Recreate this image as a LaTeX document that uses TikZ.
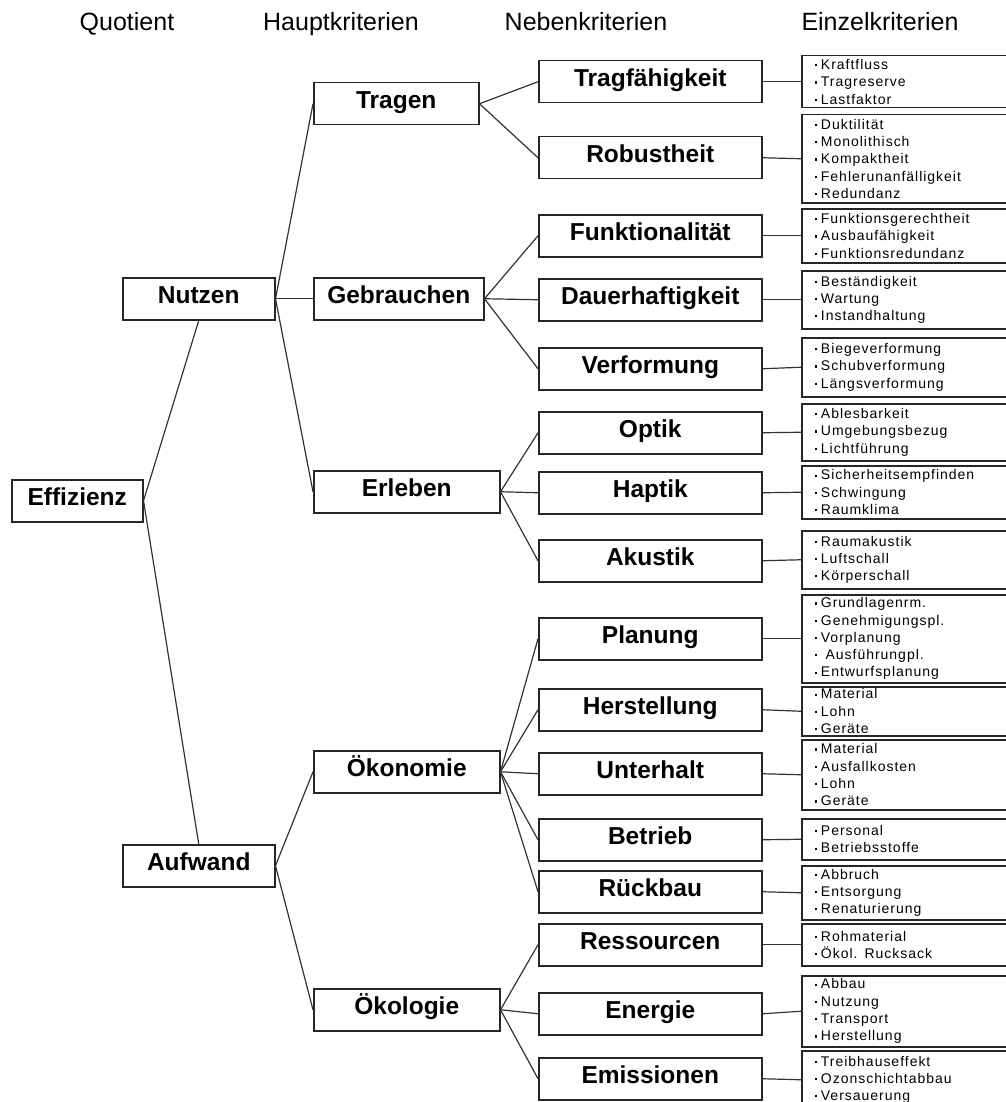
\documentclass[tikz,border=0pt]{standalone}
\usepackage{fontspec}
\setmainfont{Liberation Sans}
\newfontfamily\smallf[LetterSpace=7]{Liberation Sans}
\newcommand\bu{\rule[3.2pt]{2.2pt}{2.2pt}\hspace{4pt}}
\begin{document}
\begin{tikzpicture}[x=1pt,y=-1pt,
 hbox/.style={draw=black!85, line width=1.5pt, fill=white, font=\fontsize{24.5}{28}\bfseries\selectfont, text height=17.5pt, text depth=8pt, inner sep=0pt, anchor=north west, minimum height=42pt},
 ebox/.style={draw=black!85, line width=1.5pt, anchor=north west, text width=190pt, inner xsep=13pt, inner ysep=0pt, align=left, font=\smallf\fontsize{14}{17.3}\selectfont},
 conn/.style={draw=black!80, line width=1.2pt},
 head/.style={font=\fontsize{25}{30}\selectfont, anchor=base}]
\useasboundingbox (0,0) rectangle (1005,1102);
% headers
\node[head] (h1) at (127,31) {Quotient};
\node[head] (h2) at (341,31) {Hauptkriterien};
\node[head] (h3) at (586,31) {Nebenkriterien};
\node[head] (h4) at (880,31) {Einzelkriterien};
% level 0/1
\node[hbox, minimum width=131pt] (eff) at (11,479) {Effizienz};
\node[hbox, minimum width=152pt] (nutzen) at (122,277) {Nutzen};
\node[hbox, minimum width=152pt] (aufwand) at (122,844) {Aufwand};
% Hauptkriterien
\node[hbox, minimum width=165pt] (tragen) at (313,82) {Tragen};
\node[hbox, minimum width=170pt] (gebr) at (313,277) {Gebrauchen};
\node[hbox, minimum width=186pt] (erleben) at (313,470) {Erleben};
\node[hbox, minimum width=186pt] (oekon) at (313,750) {Ökonomie};
\node[hbox, minimum width=186pt] (oekol) at (313,988) {Ökologie};
% Nebenkriterien
\node[hbox, minimum width=223pt] (n1) at (538,60) {Tragfähigkeit};
\node[hbox, minimum width=223pt] (n2) at (538,136) {Robustheit};
\node[hbox, minimum width=223pt] (n3) at (538,214) {Funktionalität};
\node[hbox, minimum width=223pt] (n4) at (538,278) {Dauerhaftigkeit};
\node[hbox, minimum width=223pt] (n5) at (538,347) {Verformung};
\node[hbox, minimum width=223pt] (n6) at (538,411) {Optik};
\node[hbox, minimum width=223pt] (n7) at (538,471) {Haptik};
\node[hbox, minimum width=223pt] (n8) at (538,539) {Akustik};
\node[hbox, minimum width=223pt] (n9) at (538,617) {Planung};
\node[hbox, minimum width=223pt] (n10) at (538,688) {Herstellung};
\node[hbox, minimum width=223pt] (n11) at (538,752) {Unterhalt};
\node[hbox, minimum width=223pt] (n12) at (538,818) {Betrieb};
\node[hbox, minimum width=223pt] (n13) at (538,870) {Rückbau};
\node[hbox, minimum width=223pt] (n14) at (538,923) {Ressourcen};
\node[hbox, minimum width=223pt] (n15) at (538,992) {Energie};
\node[hbox, minimum width=223pt] (n16) at (538,1057) {Emissionen};
% Einzelkriterien
\node[ebox, minimum height=52pt] (z1) at (801,55) {\bu Kraftfluss\\\bu Tragreserve\\\bu Lastfaktor};
\node[ebox, minimum height=88pt] (z2) at (801,114) {\bu Duktilität\\\bu Monolithisch\\\bu Kompaktheit\\\bu Fehlerunanfälligkeit\\\bu Redundanz};
\node[ebox, minimum height=54pt] (z3) at (801,208) {\bu Funktionsgerechtheit\\\bu Ausbaufähigkeit\\\bu Funktionsredundanz};
\node[ebox, minimum height=58pt] (z4) at (801,270) {\bu Beständigkeit\\\bu Wartung\\\bu Instandhaltung};
\node[ebox, minimum height=59pt] (z5) at (801,337) {\bu Biegeverformung\\\bu Schubverformung\\\bu Längsverformung};
\node[ebox, minimum height=57pt] (z6) at (801,403) {\bu Ablesbarkeit\\\bu Umgebungsbezug\\\bu Lichtführung};
\node[ebox, minimum height=53pt] (z7) at (801,465) {\bu Sicherheitsempfinden\\\bu Schwingung\\\bu Raumklima};
\node[ebox, minimum height=58pt] (z8) at (801,530) {\bu Raumakustik\\\bu Luftschall\\\bu Körperschall};
\node[ebox, minimum height=88pt] (z9) at (801,594) {\bu Grundlagenrm.\\\bu Genehmigungspl.\\\bu Vorplanung\\\bu\ Ausführungpl.\\\bu Entwurfsplanung};
\node[ebox, minimum height=49pt] (z10) at (801,686) {\bu Material\\\bu Lohn\\\bu Geräte};
\node[ebox, minimum height=70pt] (z11) at (801,739) {\bu Material\\\bu Ausfallkosten\\\bu Lohn\\\bu Geräte};
\node[ebox, minimum height=41pt] (z12) at (801,818) {\bu Personal\\\bu Betriebsstoffe};
\node[ebox, minimum height=54pt] (z13) at (801,865) {\bu Abbruch\\\bu Entsorgung\\\bu Renaturierung};
\node[ebox, minimum height=42pt] (z14) at (801,923) {\bu Rohmaterial\\\bu Ökol. Rucksack};
\node[ebox, minimum height=71pt] (z15) at (801,975) {\bu Abbau\\\bu Nutzung\\\bu Transport\\\bu Herstellung};
\node[ebox, minimum height=58pt] (z16) at (801,1050) {\bu Treibhauseffekt\\\bu Ozonschichtabbau\\\bu Versauerung};
% connectors
\draw[conn] (eff.east) -- (nutzen.south);
\draw[conn] (eff.east) -- (aufwand.north);
\draw[conn] (nutzen.east) -- (tragen.west);
\draw[conn] (nutzen.east) -- (gebr.west);
\draw[conn] (nutzen.east) -- (erleben.west);
\draw[conn] (aufwand.east) -- (oekon.west);
\draw[conn] (aufwand.east) -- (oekol.west);
\draw[conn] (tragen.east) -- (n1.west);
\draw[conn] (tragen.east) -- (n2.west);
\draw[conn] (gebr.east) -- (n3.west);
\draw[conn] (gebr.east) -- (n4.west);
\draw[conn] (gebr.east) -- (n5.west);
\draw[conn] (erleben.east) -- (n6.west);
\draw[conn] (erleben.east) -- (n7.west);
\draw[conn] (erleben.east) -- (n8.west);
\draw[conn] (oekon.east) -- (n9.west);
\draw[conn] (oekon.east) -- (n10.west);
\draw[conn] (oekon.east) -- (n11.west);
\draw[conn] (oekon.east) -- (n12.west);
\draw[conn] (oekon.east) -- (n13.west);
\draw[conn] (oekol.east) -- (n14.west);
\draw[conn] (oekol.east) -- (n15.west);
\draw[conn] (oekol.east) -- (n16.west);
\foreach \i in {1,...,16} { \draw[conn] (n\i.east) -- (z\i.west); }
\end{tikzpicture}
\end{document}
